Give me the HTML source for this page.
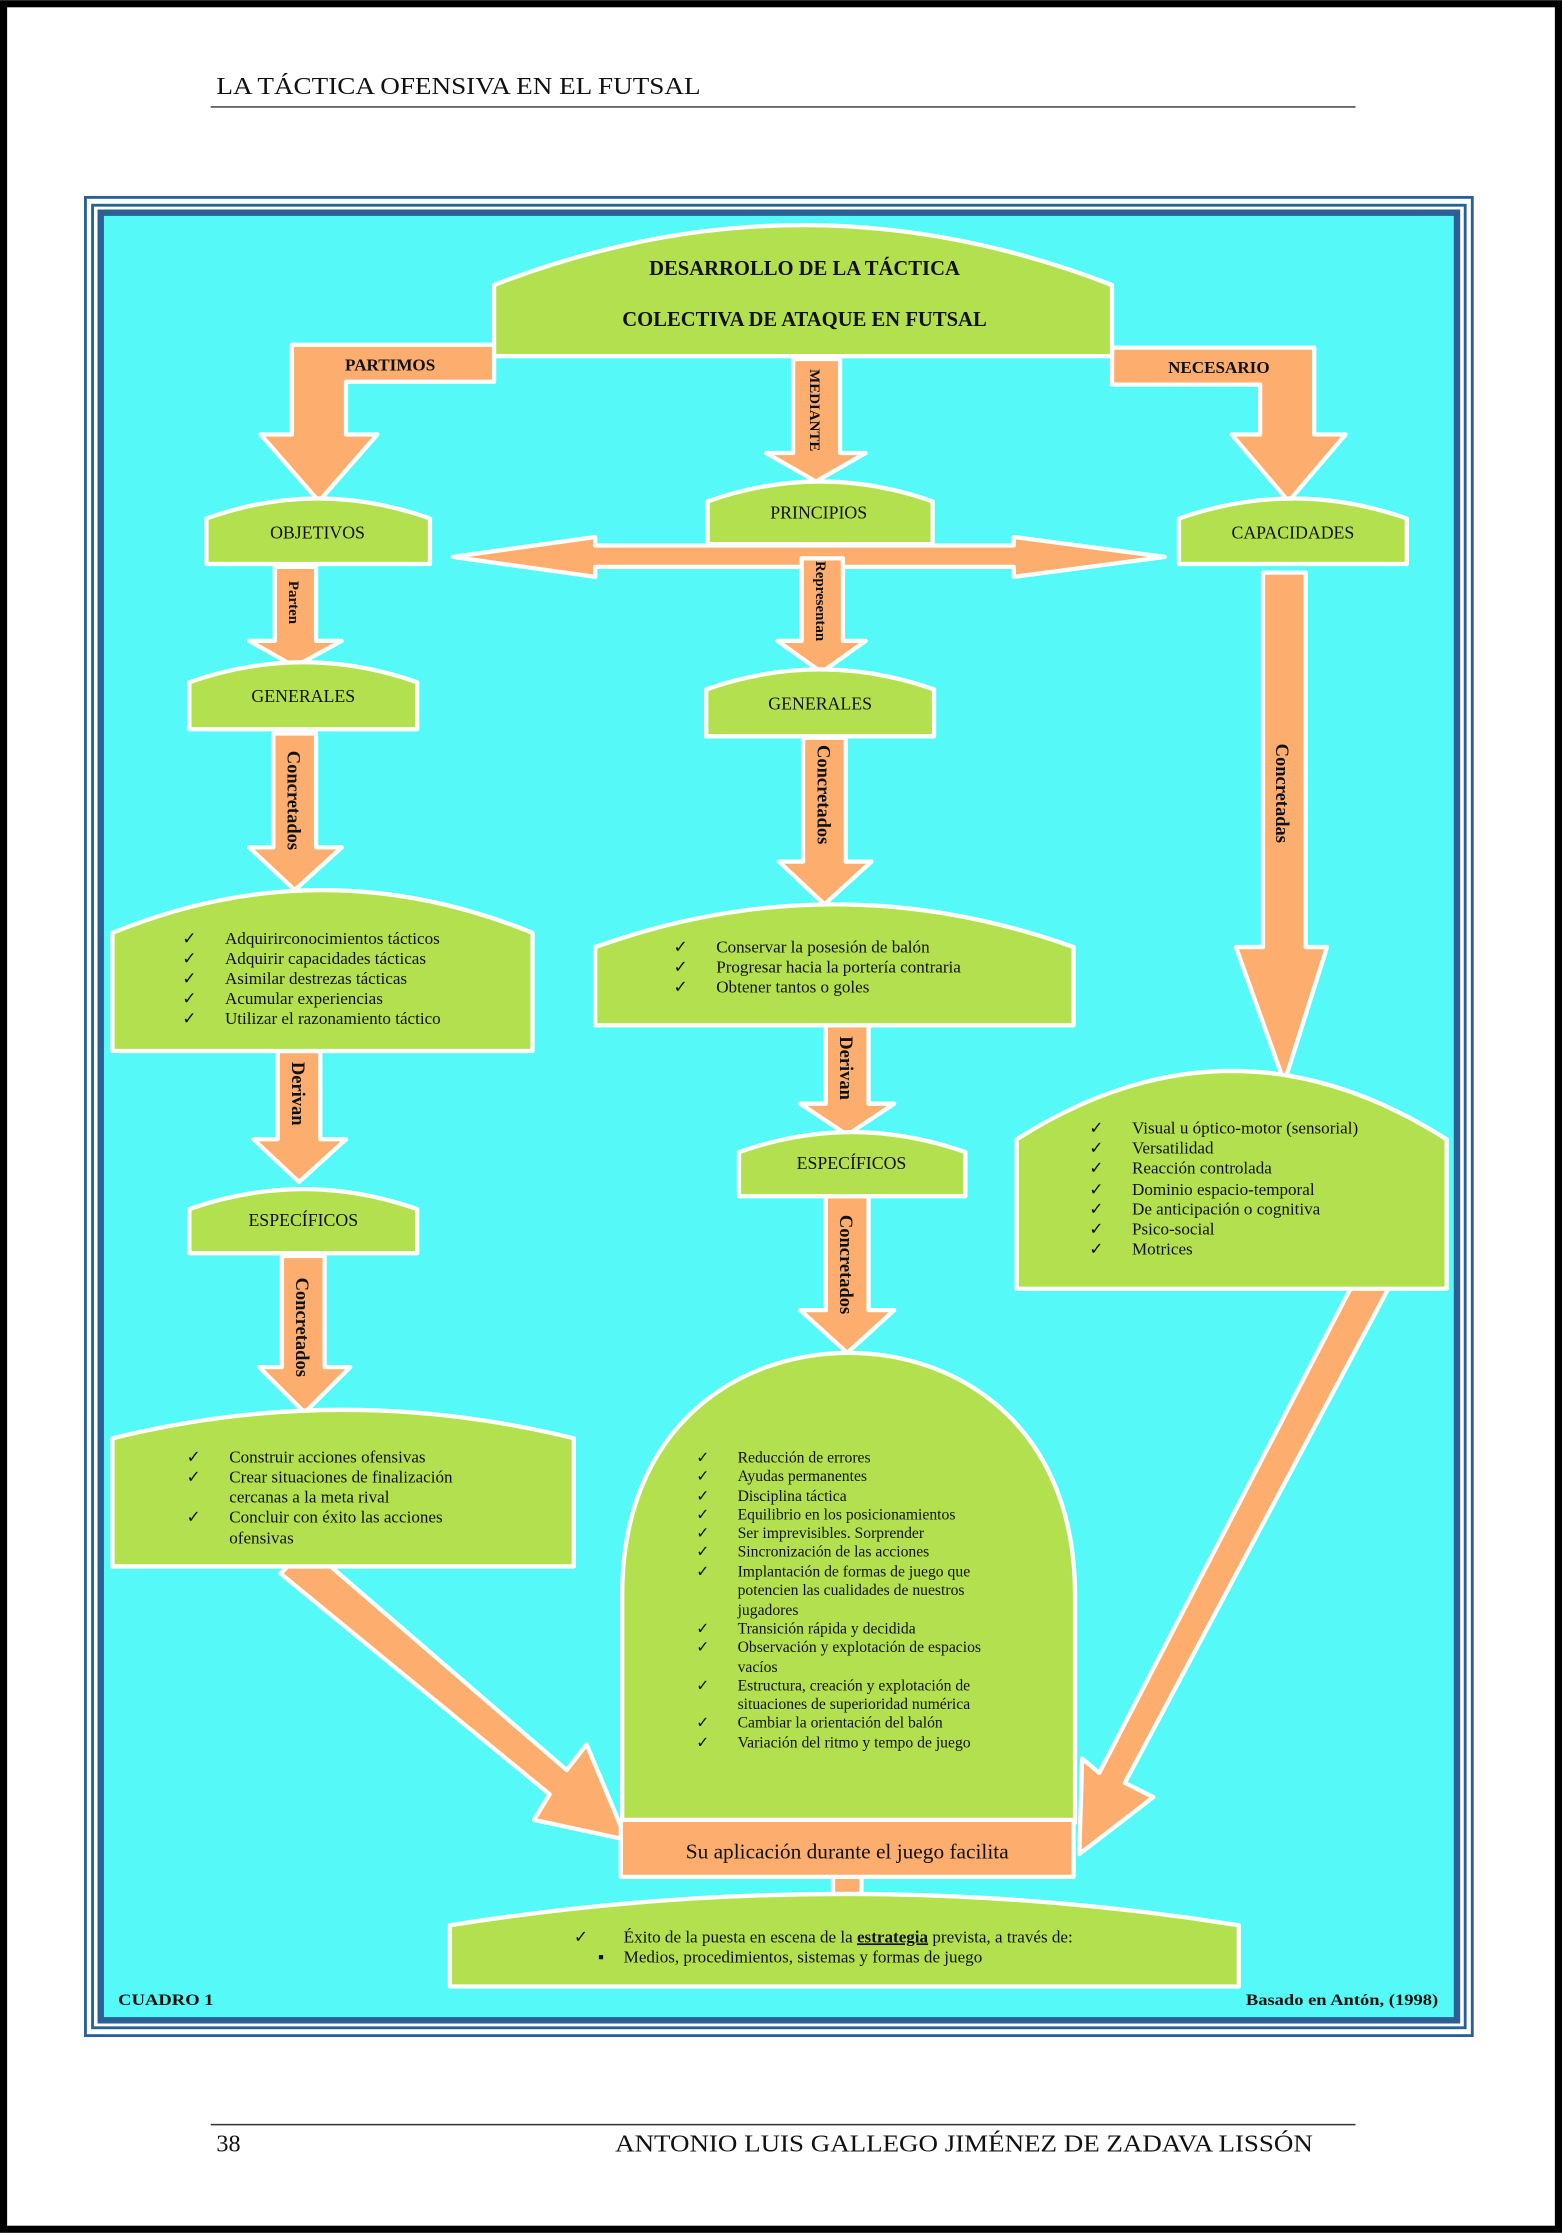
<!DOCTYPE html>
<html><head><meta charset="utf-8">
<style>
html,body{margin:0;padding:0;background:#fff;}
svg{display:block;}
text{font-family:"Liberation Serif",serif;fill:#111;}
.b{font-weight:bold;}
</style></head>
<body>
<svg width="1562" height="2233" viewBox="0 0 1097 1568" xmlns="http://www.w3.org/2000/svg">
<rect x="2.5" y="2.5" width="1092" height="1563" fill="#fff" stroke="#000" stroke-width="5"/>
<text x="152" y="66" font-size="17" textLength="340" lengthAdjust="spacingAndGlyphs">LA TÁCTICA OFENSIVA EN EL FUTSAL</text>
<line x1="148" y1="75" x2="952" y2="75" stroke="#333" stroke-width="1"/>
<line x1="148" y1="1492" x2="952" y2="1492" stroke="#333" stroke-width="1"/>
<text x="152" y="1511" font-size="17">38</text>
<text x="432" y="1511" font-size="17" textLength="490" lengthAdjust="spacingAndGlyphs">ANTONIO LUIS GALLEGO JIMÉNEZ DE ZADAVA LISSÓN</text>

<!-- frame -->
<rect x="59" y="137.5" width="976" height="1293" fill="#2a6094"/>
<rect x="61" y="139.5" width="972" height="1289" fill="#fff"/>
<rect x="64" y="143" width="966" height="1282" fill="#2a6094"/>
<rect x="66" y="145" width="962" height="1278" fill="#fff"/>
<rect x="68.5" y="147" width="957" height="1274" fill="#2a6094"/>
<rect x="73" y="151.5" width="948" height="1265" fill="#55faf8"/>

<g stroke="#fff" stroke-width="3" stroke-linejoin="round">
<g fill="#fdae6e">
<polygon points="347,242 205,242 205,305 183,305 224,352 265,305 243,305 243,268 347,268"/>
<polygon points="781,244 923,244 923,305 945,305 905,352 865,305 885,305 885,270 781,270"/>
<polygon points="557,252 590,252 590,318 608,318 573,338 538,318 557,318"/>
<polygon points="318,391 418,377 418,383 712,383 712,377 818,391 712,405 712,398 418,398 418,405"/>
<polygon points="193,398 222,398 222,450 240,450 207,468 175,450 193,450"/>
<polygon points="563,392 592,392 592,450 608,450 577,472 546,450 563,450"/>
<polygon points="192,515 222,515 222,595 240,595 207,625 175,595 192,595"/>
<polygon points="564,518 594,518 594,605 612,605 579,635 547,605 564,605"/>
<polygon points="887,402 917,402 917,665 932,665 902,760 868,665 887,665"/>
<polygon points="195,738 225,738 225,800 243,800 210,830 178,800 195,800"/>
<polygon points="580,720 610,720 610,775 628,775 595,797 562,775 580,775"/>
<polygon points="198,882 228,882 228,960 246,960 214,992 182,960 198,960"/>
<polygon points="580,840 610,840 610,920 628,920 595,950 562,920 580,920"/>
<polygon points="197,1105 216,1086 398,1243 412,1225 440,1292 375,1278 386,1260"/>
<polygon points="952,898 975,905 790,1252 810,1262 758,1302 760,1235 772,1245"/>
<rect x="585" y="1316" width="20" height="20"/>
</g>
<g fill="#b3e04f">
<path d="M347,250 L347,200 Q564,116 781,200 L781,250 Z"/>
<path d="M497,382 L497,352 Q576,324 655,352 L655,382 Z"/>
<path d="M145,396 L145,364 Q223,336 302,364 L302,396 Z"/>
<path d="M828,396 L828,364 Q908,336 988,364 L988,396 Z"/>
<path d="M133,512 L133,479 Q213,451 293,479 L293,512 Z"/>
<path d="M496,517 L496,484 Q576,456 656,484 L656,517 Z"/>
<path d="M79,738 L79,655 Q226,595 374,655 L374,738 Z"/>
<path d="M418,720 L418,665 Q586,605 754,665 L754,720 Z"/>
<path d="M714,905 L714,800 Q865,704 1016,800 L1016,905 Z"/>
<path d="M133,880 L133,849 Q213,821 293,849 L293,880 Z"/>
<path d="M519,840 L519,809 Q598,781 678,809 L678,840 Z"/>
<path d="M79,1100 L79,1010 Q241,970 403,1010 L403,1100 Z"/>
<path d="M437,1280 L437,1120 C437,1000 520,950 596,950 C672,950 755,1000 755,1120 L755,1280 Z"/>
<path d="M316,1395 L316,1352 Q593,1308 870,1352 L870,1395 Z"/>
</g>
<rect x="436" y="1278" width="318" height="40" fill="#fdae6e"/>
</g>

<g class="b" font-size="14.5" text-anchor="middle">
<text x="565" y="193">DESARROLLO DE LA TÁCTICA</text>
<text x="565" y="229">COLECTIVA DE ATAQUE EN FUTSAL</text>
</g>
<g class="b" font-size="12" text-anchor="middle">
<text x="274" y="260">PARTIMOS</text>
<text x="856" y="262">NECESARIO</text>
</g>
<g font-size="12.5" text-anchor="middle">
<text x="575" y="364">PRINCIPIOS</text>
<text x="223" y="378">OBJETIVOS</text>
<text x="908" y="378">CAPACIDADES</text>
<text x="213" y="493">GENERALES</text>
<text x="576" y="498">GENERALES</text>
<text x="213" y="861">ESPECÍFICOS</text>
<text x="598" y="821">ESPECÍFICOS</text>
</g>
<g class="b" text-anchor="middle">
<text transform="translate(569,288) rotate(90)" font-size="10.5">MEDIANTE</text>
<text transform="translate(203,423) rotate(90)" font-size="10.5">Parten</text>
<text transform="translate(573,422) rotate(90)" font-size="10.5">Representan</text>
<text transform="translate(202,562) rotate(90)" font-size="13">Concretados</text>
<text transform="translate(574,558) rotate(90)" font-size="13">Concretados</text>
<text transform="translate(896,557) rotate(90)" font-size="13">Concretadas</text>
<text transform="translate(205,768) rotate(90)" font-size="13">Derivan</text>
<text transform="translate(590,750) rotate(90)" font-size="13">Derivan</text>
<text transform="translate(208,932) rotate(90)" font-size="13">Concretados</text>
<text transform="translate(590,888) rotate(90)" font-size="13">Concretados</text>
</g>

<g font-size="12">
<g><text x="128" y="663">✓</text><text x="158" y="663">Adquirirconocimientos tácticos</text>
<text x="128" y="677">✓</text><text x="158" y="677">Adquirir capacidades tácticas</text>
<text x="128" y="691">✓</text><text x="158" y="691">Asimilar destrezas tácticas</text>
<text x="128" y="705">✓</text><text x="158" y="705">Acumular experiencias</text>
<text x="128" y="719">✓</text><text x="158" y="719">Utilizar el razonamiento táctico</text></g>
<g><text x="473" y="669">✓</text><text x="503" y="669">Conservar la posesión de balón</text>
<text x="473" y="683">✓</text><text x="503" y="683">Progresar hacia la portería contraria</text>
<text x="473" y="697">✓</text><text x="503" y="697">Obtener tantos o goles</text></g>
<g><text x="765" y="796">✓</text><text x="795" y="796">Visual u óptico-motor (sensorial)</text>
<text x="765" y="810">✓</text><text x="795" y="810">Versatilidad</text>
<text x="765" y="824">✓</text><text x="795" y="824">Reacción controlada</text>
<text x="765" y="839">✓</text><text x="795" y="839">Dominio espacio-temporal</text>
<text x="765" y="853">✓</text><text x="795" y="853">De anticipación o cognitiva</text>
<text x="765" y="867">✓</text><text x="795" y="867">Psico-social</text>
<text x="765" y="881">✓</text><text x="795" y="881">Motrices</text></g>
<g><text x="131" y="1027">✓</text><text x="161" y="1027">Construir acciones ofensivas</text>
<text x="131" y="1041">✓</text><text x="161" y="1041">Crear situaciones de finalización</text>
<text x="161" y="1055">cercanas a la meta rival</text>
<text x="131" y="1069">✓</text><text x="161" y="1069">Concluir con éxito las acciones</text>
<text x="161" y="1084">ofensivas</text></g>
</g>
<g font-size="11">
<text x="489" y="1027">✓</text><text x="518" y="1027">Reducción de errores</text>
<text x="489" y="1040">✓</text><text x="518" y="1040">Ayudas permanentes</text>
<text x="489" y="1054">✓</text><text x="518" y="1054">Disciplina táctica</text>
<text x="489" y="1067">✓</text><text x="518" y="1067">Equilibrio en los posicionamientos</text>
<text x="489" y="1080">✓</text><text x="518" y="1080">Ser imprevisibles. Sorprender</text>
<text x="489" y="1093">✓</text><text x="518" y="1093">Sincronización de las acciones</text>
<text x="489" y="1107">✓</text><text x="518" y="1107">Implantación de formas de juego que</text>
<text x="518" y="1120">potencien las cualidades de nuestros</text>
<text x="518" y="1134">jugadores</text>
<text x="489" y="1147">✓</text><text x="518" y="1147">Transición rápida y decidida</text>
<text x="489" y="1160">✓</text><text x="518" y="1160">Observación y explotación de espacios</text>
<text x="518" y="1174">vacíos</text>
<text x="489" y="1187">✓</text><text x="518" y="1187">Estructura, creación y explotación de</text>
<text x="518" y="1200">situaciones de superioridad numérica</text>
<text x="489" y="1213">✓</text><text x="518" y="1213">Cambiar la orientación del balón</text>
<text x="489" y="1227">✓</text><text x="518" y="1227">Variación del ritmo y tempo de juego</text>
</g>
<text x="595" y="1305" font-size="15" text-anchor="middle">Su aplicación durante el juego facilita</text>
<g font-size="12">
<text x="403" y="1364">✓</text><text x="438" y="1364">Éxito de la puesta en escena de la <tspan font-weight="bold" text-decoration="underline">estrategia</tspan> prevista, a través de:</text>
<text x="420" y="1378">▪</text><text x="438" y="1378">Medios, procedimientos, sistemas y formas de juego</text>
</g>
<text x="83" y="1408" font-size="11" class="b" textLength="67" lengthAdjust="spacingAndGlyphs">CUADRO 1</text>
<text x="875" y="1408" font-size="11" class="b" textLength="135" lengthAdjust="spacingAndGlyphs">Basado en Antón, (1998)</text>
</svg>
</body></html>
